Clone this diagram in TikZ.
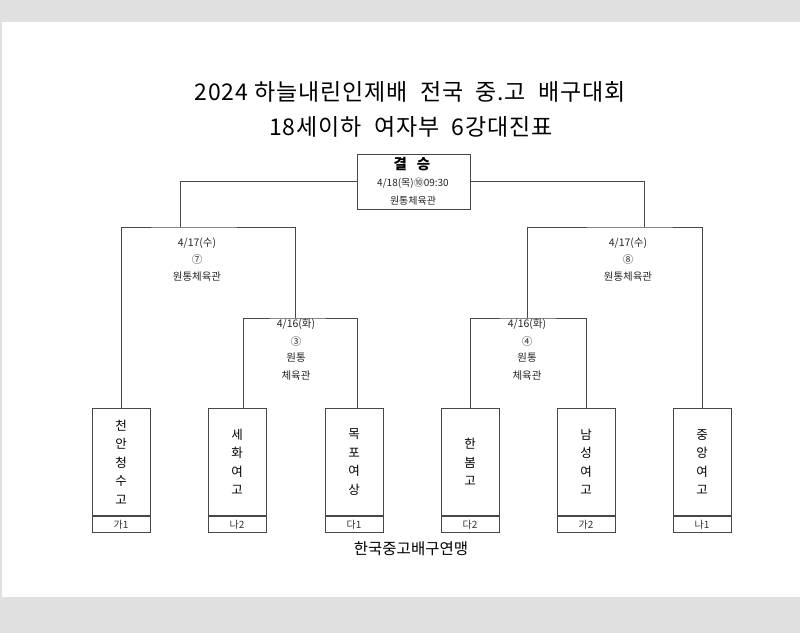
\documentclass[tikz,border=0pt]{standalone}
\usepackage{fontspec}
\setmainfont{Noto Sans CJK KR}
\newfontfamily\krwide[LetterSpace=4]{Noto Sans CJK KR}
\begin{document}
\begin{tikzpicture}[x=1pt,y=-1pt,
  line/.style={draw=black!72, line width=0.9pt},
  teambox/.style={draw=black!72, line width=0.9pt, minimum width=58pt, minimum height=107pt, anchor=north, inner sep=0pt, font=\fontsize{12.5}{18.5}\selectfont, align=center},
  grpbox/.style={draw=black!72, line width=0.9pt, minimum width=58pt, minimum height=16pt, anchor=north, inner sep=0pt, font=\fontsize{10}{11}\selectfont, text=black!80},
  small/.style={font=\fontsize{10.5}{12}\selectfont, inner sep=0pt, text=black!85},
  title/.style={font=\krwide\fontsize{23}{26}\selectfont, inner sep=0pt}]
\useasboundingbox (0,0) rectangle (800,633);
\fill[black!12] (0,0) rectangle (800,633);
\fill[white] (2,22) rectangle (800,597);
% titles
\node[title] (t1line) at (410,92) {2024 하늘내린인제배\ \ 전국\ \ 중.고\ \ 배구대회};
\node[title] (t2line) at (411,127) {18세이하\ \ 여자부\ \ 6강대진표};
% final box
\node[draw=black!72, line width=0.9pt, minimum width=113pt, minimum height=55pt, inner sep=0pt] (final) at (413.5,181.5) {};
\node[font=\fontsize{14.5}{16}\selectfont\bfseries, inner sep=0pt] (fin1) at (412,164) {결\ \ \ 승};
\node[small, font=\fontsize{10}{11}\selectfont] (fin2) at (413,183) {4/18(목)⑩09:30};
\node[small, font=\fontsize{10}{11}\selectfont] (fin3) at (413,201) {원통체육관};
% team boxes
\node[teambox] (tA) at (121,408) {천\\안\\청\\수\\고};
\node[teambox] (tB) at (237,408) {세\\화\\여\\고};
\node[teambox] (tC) at (354,408) {목\\포\\여\\상};
\node[teambox] (tD) at (470,408) {한\\봄\\고};
\node[teambox] (tE) at (586,408) {남\\성\\여\\고};
\node[teambox] (tF) at (702,408) {중\\앙\\여\\고};
\node[grpbox] (gA) at (tA.south) {가1};
\node[grpbox] (gB) at (tB.south) {나2};
\node[grpbox] (gC) at (tC.south) {다1};
\node[grpbox] (gD) at (tD.south) {다2};
\node[grpbox] (gE) at (tE.south) {가2};
\node[grpbox] (gF) at (tF.south) {나1};
% junctions
\coordinate (sfL) at (180,227);
\coordinate (sfR) at (644,227);
\coordinate (qfL) at (295,318);
\coordinate (qfR) at (527,318);
% connectors
\draw[line] (final.west) -| (sfL);
\draw[line] (final.east) -| (sfR);
\draw[line] (tA.north) |- (sfL) -| (qfL);
\draw[line] ([xshift=6pt]tB.north) |- (qfL) -| ([xshift=3pt]tC.north);
\draw[line] (qfR) |- (sfR) -| (tF.north);
\draw[line] (tD.north) |- (qfR) -| (tE.north);
% match labels
\node[small] (mL1) at (197,243) {4/17(수)};
\node[small] (mL2) at (197,260) {⑦};
\node[small] (mL3) at (197,277) {원통체육관};
\node[small] (mR1) at (628,243) {4/17(수)};
\node[small] (mR2) at (628,260) {⑧};
\node[small] (mR3) at (628,277) {원통체육관};
\node[small] (qL1) at (296,324) {4/16(화)};
\node[small] (qL2) at (296,341) {③};
\node[small] (qL3) at (296,358) {원통};
\node[small] (qL4) at (296,376) {체육관};
\node[small] (qR1) at (527,324) {4/16(화)};
\node[small] (qR2) at (527,341) {④};
\node[small] (qR3) at (527,358) {원통};
\node[small] (qR4) at (527,376) {체육관};
% footer
\node[font=\fontsize{15.5}{17}\selectfont, inner sep=0pt] (foot) at (411,549) {한국중고배구연맹};
\end{tikzpicture}
\end{document}
